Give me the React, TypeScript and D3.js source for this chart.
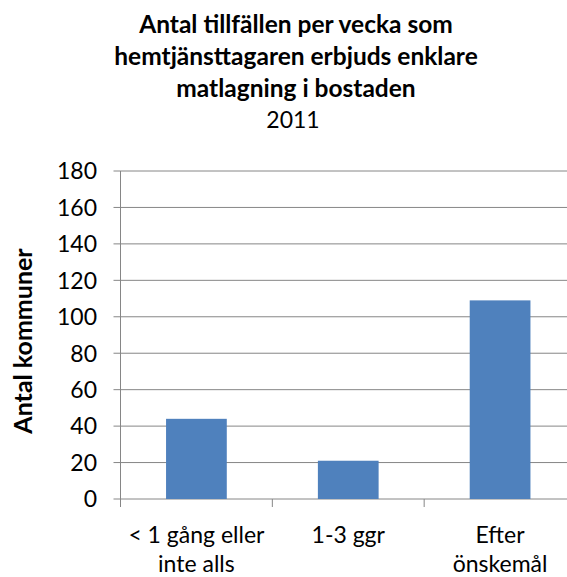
import React from 'react';
import * as d3 from 'd3';

// chart data
const categories = ['< 1 gång eller inte alls', '1-3 ggr', 'Efter önskemål'];
const categoryLines = [['< 1 gång eller', 'inte alls'], ['1-3 ggr'], ['Efter', 'önskemål']];
const values = [44, 21, 109];
const yTicks = [0, 20, 40, 60, 80, 100, 120, 140, 160, 180];
const titleLines = ['Antal tillfällen per vecka som', 'hemtjänsttagaren erbjuds enklare', 'matlagning i bostaden'];
const subtitle = '2011';
const yLabel = 'Antal kommuner';

const W = 567;
const H = 577;
const margin = { top: 171, right: -9, bottom: 78, left: 120.5 };
const font = 'Lato, Calibri, sans-serif';

export default function App() {
  const x = d3.scaleBand<string>()
    .domain(categories)
    .range([margin.left, W - margin.right])
    .paddingInner(0.6)
    .paddingOuter(0.3);
  const step = x.step();
  const y = d3.scaleLinear().domain([0, 180]).range([H - margin.bottom, margin.top]);
  const y0 = y(0);
  const gridColor = '#868686';

  return (
    <div style={{ position: 'absolute', left: 0, top: 0 }}>
      <svg width={W} height={H} style={{ display: 'block', background: '#fff' }} fontFamily={font}>
        {/* title */}
        <g textAnchor="middle" fill="#000">
          {titleLines.map((t, i) => (
            <text key={t} x={296} y={33 + i * 32} fontSize={24.5} fontWeight="bold">{t}</text>
          ))}
          <text x={293} y={128} fontSize={23}>{subtitle}</text>
        </g>

        {/* gridlines */}
        {yTicks.map(t => (
          <line key={t} x1={margin.left - 7} x2={W} y1={y(t)} y2={y(t)} stroke={gridColor} strokeWidth={1} />
        ))}

        {/* bars */}
        {categories.map((c, i) => (
          <rect key={c} x={x(c)} y={y(values[i])} width={x.bandwidth()} height={y0 - y(values[i])} fill="#4F81BD" />
        ))}

        {/* axes */}
        <line x1={margin.left} x2={margin.left} y1={y(180)} y2={y0 + 8} stroke={gridColor} />
        {categories.map((c, i) => {
          const bx = margin.left + step * (i + 1);
          return <line key={c} x1={bx} x2={bx} y1={y0} y2={y0 + 8} stroke={gridColor} />;
        })}

        {/* y tick labels */}
        {yTicks.map(t => (
          <text key={t} x={97} y={y(t)} dy="0.36em" textAnchor="end" fontSize={23} fill="#000">{t}</text>
        ))}

        {/* x labels */}
        {categories.map((c, i) => (
          <text key={c} textAnchor="middle" fontSize={23} fill="#000">
            {categoryLines[i].map((l, j) => (
              <tspan key={l} x={(x(c) ?? 0) + x.bandwidth() / 2} y={543 + j * 29}>{l}</tspan>
            ))}
          </text>
        ))}

        {/* y title */}
        <text transform={`translate(32, ${341}) rotate(-90)`} textAnchor="middle" fontSize={25} fontWeight="bold" fill="#000">{yLabel}</text>
      </svg>
    </div>
  );
}
